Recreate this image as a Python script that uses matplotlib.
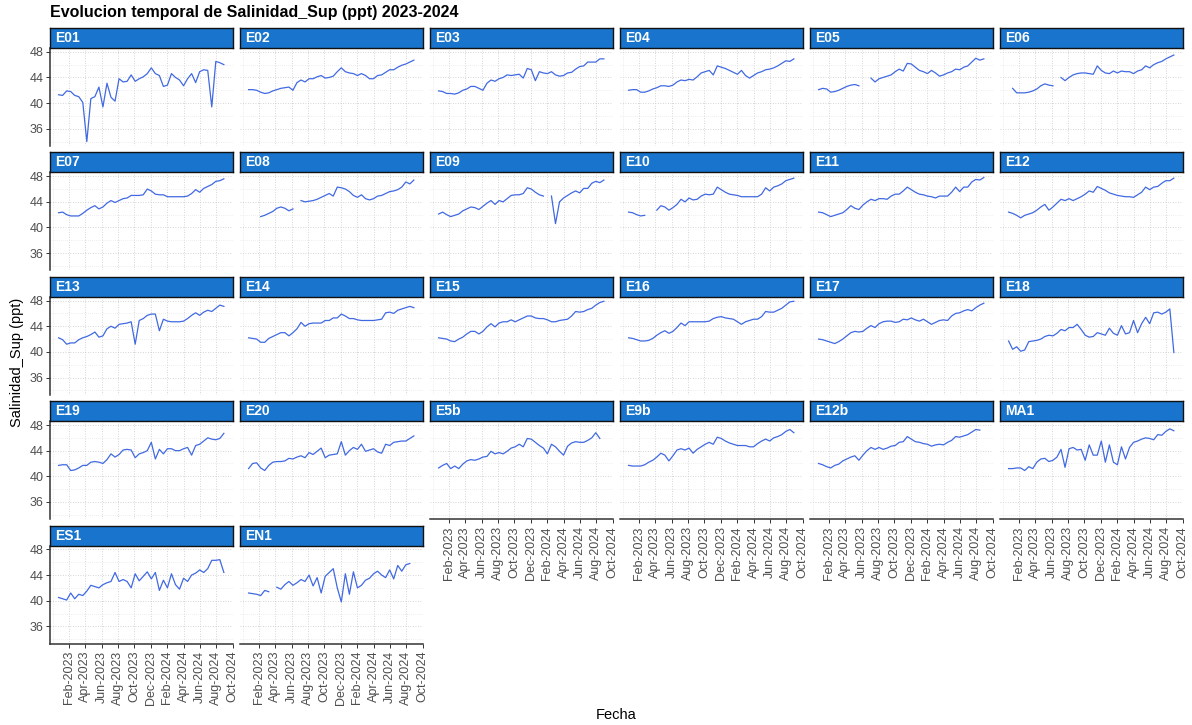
import numpy as np
import pandas as pd
import matplotlib
matplotlib.use("Agg")
import matplotlib.pyplot as plt
import matplotlib.dates as mdates

plt.rcParams['font.family'] = ['Liberation Sans', 'DejaVu Sans']

# Sampling dates (roughly every 15 days)
fechas = pd.date_range('2022-12-23', periods=42, freq='15D')
nan = np.nan

estaciones = ['E01', 'E02', 'E03', 'E04', 'E05', 'E06', 'E07', 'E08', 'E09', 'E10',
              'E11', 'E12', 'E13', 'E14', 'E15', 'E16', 'E17', 'E18', 'E19', 'E20',
              'E5b', 'E9b', 'E12b', 'MA1', 'ES1', 'EN1']

E01 = [41.3, 41.2, 41.9, 41.8, 41.2, 41.0, 40.1, 34.0, 40.7, 41.0, 42.5, 39.4, 43.1, 40.9,
       40.3, 43.8, 43.3, 43.4, 44.4, 43.4, 43.8, 44.1, 44.6, 45.5, 44.6, 44.3, 42.6, 42.8,
       44.6, 44.0, 43.6, 42.7, 43.8, 44.6, 43.2, 44.9, 45.2, 45.1, 39.4, 46.5, 46.3, 46.0]
E02 = [42.1, 42.1, 42.0, 41.7, 41.5, 41.6, 41.9, 42.1, 42.3, 42.4, 42.5, 42.0, 43.2, 43.6,
       43.3, 43.8, 43.8, 44.1, 44.3, 43.9, 44.0, 44.2, 44.9, 45.5, 44.9, 44.7, 44.6, 44.3,
       44.6, 44.3, 43.8, 43.8, 44.3, 44.4, 44.8, 45.2, 45.2, 45.6, 45.9, 46.1, 46.4, 46.7]
E03 = [41.9, 41.8, 41.5, 41.5, 41.4, 41.6, 42.0, 42.2, 42.6, 42.6, 42.3, 42.0, 43.1, 43.6,
       43.4, 43.8, 44.0, 44.4, 44.3, 44.4, 44.5, 43.9, 45.4, 45.2, 43.5, 44.9, 44.7, 44.6,
       44.9, 44.4, 44.2, 44.3, 44.7, 44.8, 45.3, 45.7, 45.8, 46.4, 46.4, 46.4, 46.9, 46.9]
E04 = [42.0, 42.1, 42.1, 41.7, 41.7, 41.9, 42.2, 42.4, 42.7, 42.7, 42.6, 42.8, 43.3, 43.6,
       43.5, 43.7, 43.6, 44.1, 44.7, 44.9, 45.1, 44.4, 45.8, 45.6, 45.4, 45.1, 44.8, 44.5,
       45.1, 44.3, 43.9, 44.3, 44.7, 44.9, 45.2, 45.3, 45.5, 45.8, 46.2, 46.6, 46.5, 46.9]
E05 = [42.1, 42.3, 42.2, 41.7, 41.8, 42.0, 42.3, 42.6, 42.8, 42.9, 42.7, nan, nan, 43.9,
       43.3, 43.8, 44.0, 44.2, 44.4, 44.9, 45.3, 45.0, 46.2, 46.1, 45.6, 45.1, 44.9, 44.6,
       45.1, 44.7, 44.2, 44.4, 44.7, 44.9, 45.3, 45.2, 45.6, 45.8, 46.4, 47.0, 46.7, 46.9]
E06 = [nan, 42.3, 41.6, 41.6, 41.6, 41.7, 41.9, 42.2, 42.7, 43.0, 42.8, 42.7, nan, 44.0,
       43.5, 44.0, 44.4, 44.6, 44.7, 44.7, 44.6, 44.5, 45.8, 45.1, 44.7, 44.6, 45.0, 44.7,
       45.0, 44.9, 44.9, 44.6, 45.0, 45.2, 45.8, 45.5, 46.0, 46.3, 46.5, 46.9, 47.2, 47.5]
E07 = [42.3, 42.4, 42.0, 41.8, 41.8, 41.8, 42.2, 42.7, 43.1, 43.4, 42.9, 43.2, 43.8, 44.2,
       43.9, 44.2, 44.5, 44.6, 45.0, 45.0, 45.0, 45.1, 46.0, 45.7, 45.2, 45.1, 45.1, 44.8,
       44.8, 44.8, 44.8, 44.8, 44.9, 45.3, 45.9, 45.5, 46.1, 46.4, 46.7, 47.2, 47.3, 47.6]
E08 = [nan, nan, nan, 41.7, 41.9, 42.2, 42.5, 43.0, 43.2, 43.0, 42.6, 42.9, nan, 44.2,
       44.0, 44.1, 44.2, 44.4, 44.7, 45.0, 45.3, 44.9, 46.3, 46.2, 46.0, 45.6, 45.0, 44.7,
       45.1, 44.5, 44.3, 44.5, 44.9, 45.0, 45.3, 45.6, 45.7, 45.9, 46.3, 47.1, 46.8, 47.4]
E09 = [42.1, 42.4, 42.0, 41.7, 41.9, 42.1, 42.6, 42.9, 43.2, 43.1, 42.8, 43.3, 43.8, 44.2,
       43.6, 44.2, 44.0, 44.5, 45.0, 45.1, 45.1, 45.3, 46.2, 46.0, 45.5, 45.1, 44.9, nan,
       44.9, 40.6, 44.0, 44.6, 45.0, 45.4, 45.7, 45.4, 46.1, 46.1, 46.9, 47.2, 47.0, 47.4]
E10 = [42.4, 42.3, 42.0, 41.8, 41.9, nan, nan, 42.7, 43.4, 43.2, 42.7, 43.1, 43.6, 44.4,
       44.0, 44.6, 44.3, 44.4, 44.9, 45.2, 45.1, 45.2, 46.3, 45.9, 45.5, 45.2, 45.1, 45.0,
       44.8, 44.8, 44.8, 44.8, 44.8, 45.2, 46.2, 45.7, 46.3, 46.5, 46.8, 47.3, 47.5, 47.7]
E11 = [42.4, 42.3, 42.0, 41.7, 41.9, 42.1, 42.3, 42.8, 43.4, 43.0, 42.8, 43.5, 44.0, 44.4,
       44.2, 44.5, 44.5, 44.4, 44.9, 45.2, 45.2, 45.7, 46.3, 45.9, 45.5, 45.2, 45.1, 44.9,
       44.8, 44.6, 44.9, 44.9, 44.9, 45.5, 46.3, 45.6, 46.3, 46.3, 47.1, 47.5, 47.4, 47.8]
E12 = [42.4, 42.2, 41.9, 41.5, 41.9, 42.1, 42.3, 42.7, 43.2, 43.6, 42.7, 43.2, 43.8, 44.4,
       44.2, 44.5, 44.2, 44.5, 44.8, 45.2, 45.7, 45.5, 46.4, 46.1, 45.8, 45.4, 45.2, 45.0,
       44.9, 44.8, 44.8, 44.7, 45.1, 45.5, 46.3, 45.9, 46.3, 46.4, 46.9, 47.3, 47.3, 47.7]
E13 = [42.2, 41.9, 41.2, 41.4, 41.4, 41.9, 42.2, 42.4, 42.7, 43.1, 42.3, 42.5, 43.6, 44.0,
       43.7, 44.3, 44.4, 44.5, 44.7, 41.2, 44.9, 45.2, 45.7, 45.9, 45.9, 43.3, 45.1, 44.8,
       44.7, 44.7, 44.7, 44.8, 45.2, 45.7, 46.1, 45.7, 46.2, 46.5, 46.3, 46.8, 47.3, 47.1]
E14 = [42.2, 42.1, 42.0, 41.5, 41.5, 42.1, 42.4, 42.7, 43.0, 43.0, 42.5, 43.0, 43.6, 44.6,
       44.0, 44.4, 44.5, 44.5, 44.5, 44.9, 44.9, 45.3, 45.3, 45.9, 45.6, 45.2, 45.2, 45.0,
       44.9, 44.9, 44.9, 44.9, 45.0, 45.1, 46.1, 46.2, 46.0, 46.5, 46.7, 46.9, 47.1, 46.9]
E15 = [42.2, 42.1, 42.0, 41.7, 41.6, 42.0, 42.3, 42.8, 43.2, 43.2, 42.8, 43.2, 43.9, 44.4,
       43.9, 44.5, 44.7, 44.7, 45.0, 44.7, 45.0, 45.3, 45.6, 45.6, 45.3, 45.2, 45.2, 45.0,
       44.7, 44.7, 44.9, 45.0, 45.1, 45.6, 46.3, 46.2, 46.3, 46.6, 46.8, 47.3, 47.7, 47.9]
E16 = [42.2, 42.1, 41.9, 41.7, 41.7, 41.8, 42.1, 42.6, 43.0, 43.3, 42.9, 43.2, 43.8, 44.5,
       44.1, 44.7, 44.7, 44.7, 44.7, 44.7, 44.8, 45.2, 45.4, 45.5, 45.3, 45.2, 45.1, 44.7,
       44.3, 44.7, 44.9, 45.1, 45.1, 45.5, 46.3, 46.2, 46.2, 46.5, 46.8, 47.3, 47.8, 47.9]
E17 = [42.0, 41.9, 41.7, 41.5, 41.3, 41.6, 42.0, 42.5, 43.0, 43.2, 43.1, 43.2, 43.7, 44.1,
       43.8, 44.4, 44.7, 44.8, 44.8, 44.6, 44.7, 45.1, 45.0, 45.3, 45.0, 44.8, 45.1, 44.7,
       44.3, 44.6, 44.9, 45.0, 44.9, 45.6, 46.0, 46.1, 46.4, 46.6, 46.4, 46.9, 47.3, 47.6]
E18 = [41.7, 40.4, 40.8, 40.1, 40.3, 41.6, 41.7, 41.8, 42.0, 42.4, 42.6, 42.5, 42.9, 43.5,
       43.3, 43.8, 43.8, 44.3, 43.5, 42.6, 42.3, 42.4, 43.0, 42.8, 42.6, 43.7, 42.9, 42.6,
       44.1, 42.8, 43.0, 44.9, 43.0, 44.4, 45.4, 44.4, 46.1, 46.2, 45.9, 46.2, 46.7, 39.9]
E19 = [41.7, 41.8, 41.8, 40.9, 41.0, 41.3, 41.7, 41.7, 42.2, 42.3, 42.2, 42.0, 42.6, 43.5,
       43.0, 43.4, 44.1, 44.2, 44.1, 42.9, 43.5, 43.7, 44.0, 45.3, 42.7, 44.2, 43.5, 44.3,
       44.3, 44.0, 44.0, 44.3, 44.5, 43.3, 44.8, 45.0, 45.5, 46.0, 45.8, 45.7, 45.9, 46.7]
E20 = [41.2, 42.0, 42.1, 41.3, 40.9, 41.7, 42.2, 42.3, 42.3, 42.4, 42.8, 42.7, 43.0, 43.2,
       42.9, 43.7, 43.4, 43.9, 44.4, 42.9, 43.3, 43.4, 43.5, 45.4, 43.3, 44.0, 44.5, 44.2,
       45.0, 43.9, 44.1, 44.3, 43.8, 43.6, 45.0, 44.8, 45.3, 45.4, 45.5, 45.5, 45.9, 46.3]
E5b = [41.3, 41.7, 42.0, 41.2, 41.6, 41.2, 41.9, 42.4, 42.6, 42.5, 42.7, 43.0, 43.1, 43.9,
       43.5, 43.7, 43.5, 43.9, 44.4, 44.6, 45.0, 44.6, 45.9, 45.8, 45.3, 44.8, 44.4, 43.5,
       45.0, 44.6, 43.9, 43.3, 44.7, 45.2, 45.4, 45.3, 45.3, 45.6, 46.0, 46.8, 45.9, nan]
E9b = [41.7, 41.6, 41.6, 41.6, 41.8, 42.2, 42.5, 43.0, 43.6, 43.3, 42.4, 43.2, 44.1, 44.3,
       44.1, 44.4, 43.6, 44.2, 44.6, 45.0, 45.3, 45.0, 46.1, 45.9, 45.5, 45.2, 45.0, 44.8,
       44.8, 44.8, 44.6, 44.6, 45.1, 45.5, 45.8, 45.5, 46.0, 46.2, 46.5, 47.0, 47.3, 46.8]
E12b = [42.0, 41.8, 41.5, 41.3, 41.7, 41.9, 42.4, 42.7, 43.0, 43.2, 42.5, 43.3, 44.0, 44.5,
        44.2, 44.5, 44.2, 44.4, 44.7, 44.8, 45.3, 45.4, 46.2, 45.8, 45.4, 45.3, 45.1, 45.0,
        44.7, 44.9, 45.0, 44.9, 45.3, 45.6, 46.2, 46.1, 46.3, 46.5, 46.9, 47.3, 47.2, nan]
MA1 = [41.2, 41.2, 41.3, 41.3, 40.9, 41.5, 41.2, 42.2, 42.7, 42.8, 42.3, 42.5, 43.0, 44.2,
       41.4, 44.3, 44.5, 44.1, 44.2, 42.5, 44.9, 43.3, 43.3, 45.5, 42.2, 44.9, 42.2, 41.8,
       44.6, 42.7, 44.5, 45.3, 45.5, 45.8, 46.0, 45.9, 45.7, 46.5, 46.4, 47.0, 47.4, 47.1]
ES1 = [40.5, 40.3, 40.1, 41.2, 40.3, 41.0, 40.8, 41.5, 42.4, 42.2, 42.0, 42.5, 42.8, 43.0,
       44.4, 43.0, 43.3, 43.0, 42.0, 44.2, 43.1, 43.8, 44.5, 43.4, 44.4, 41.6, 43.2, 42.0,
       44.2, 42.5, 41.8, 43.5, 43.0, 44.0, 44.3, 44.8, 44.4, 45.0, 46.3, 46.3, 46.4, 44.4]
EN1 = [41.2, 41.1, 41.0, 40.8, 41.6, 41.4, nan, 42.1, 41.8, 42.5, 43.0, 42.4, 42.8, 43.3,
       43.0, 44.0, 42.3, 43.6, 41.2, 43.8, 44.4, 45.0, 42.0, 39.8, 44.2, 41.0, 44.5, 42.0,
       42.4, 43.2, 43.5, 44.2, 44.6, 44.0, 43.6, 44.8, 43.4, 45.5, 44.6, 45.6, 45.8, nan]

series = {
    'E01': E01, 'E02': E02, 'E03': E03, 'E04': E04, 'E05': E05, 'E06': E06,
    'E07': E07, 'E08': E08, 'E09': E09, 'E10': E10, 'E11': E11, 'E12': E12,
    'E13': E13, 'E14': E14, 'E15': E15, 'E16': E16, 'E17': E17, 'E18': E18,
    'E19': E19, 'E20': E20, 'E5b': E5b, 'E9b': E9b, 'E12b': E12b, 'MA1': MA1,
    'ES1': ES1, 'EN1': EN1,
}

# Axis breaks
x_major = pd.date_range('2023-02-01', '2024-10-01', freq='2MS')
x_minor = pd.date_range('2022-12-01', '2024-09-01', freq='2MS')
y_major = [36, 40, 44, 48]
y_minor = [34, 38, 42, 46]

# ---- figure layout (pixel based) ----
W, H = 1192, 725
fig = plt.figure(figsize=(W / 100, H / 100), dpi=100)
fig.patch.set_facecolor('white')

ncol = 6
col_left0, col_w, col_step = 50, 183, 190
strip_top0, strip_h, panel_h, row_step = 28, 20, 98, 124.4

def fx(px):
    return px / W

def fy(py):
    return 1 - py / H

all_vals = np.concatenate([np.asarray(v, float) for v in series.values()])
vmin, vmax = np.nanmin(all_vals), np.nanmax(all_vals)
pad = 0.05 * (vmax - vmin)
ylim = (vmin - pad, vmax + pad)
xlim = (mdates.date2num(pd.Timestamp('2022-11-21')), mdates.date2num(pd.Timestamp('2024-10-02')))

line_color = '#4169E1'
strip_color = '#1874CD'
grid_major = '#C8C8C8'
grid_minor = '#DEDEDE'
axis_color = '#333333'
text_grey = '#4D4D4D'

n = len(estaciones)
xnum = mdates.date2num(fechas)

for k, name in enumerate(estaciones):
    r, c = divmod(k, ncol)
    left = col_left0 + c * col_step
    stop = strip_top0 + r * row_step
    ptop = stop + strip_h
    ax = fig.add_axes([fx(left), fy(ptop + panel_h), col_w / W, panel_h / H])
    sax = fig.add_axes([fx(left), fy(ptop), col_w / W, strip_h / H])

    # strip
    sax.set_facecolor(strip_color)
    sax.set_xticks([])
    sax.set_yticks([])
    for sp in sax.spines.values():
        sp.set_color('#111111')
        sp.set_linewidth(1.0)
    sax.text(5 / col_w, 0.5, name, transform=sax.transAxes, ha='left', va='center',
             color='white', fontsize=10, fontweight='bold')

    # panel
    ax.set_facecolor('white')
    ax.plot(xnum, np.asarray(series[name], float), color=line_color, lw=0.9,
            solid_joinstyle='round')
    ax.set_xlim(*xlim)
    ax.set_ylim(*ylim)

    ax.set_xticks(mdates.date2num(x_major))
    ax.set_xticks(mdates.date2num(x_minor), minor=True)
    ax.xaxis.set_major_formatter(mdates.DateFormatter('%b-%Y'))
    ax.set_yticks(y_major)
    ax.set_yticks(y_minor, minor=True)

    ax.grid(which='major', color=grid_major, lw=0.6, linestyle=(0, (1, 2)))
    ax.grid(which='minor', color=grid_minor, lw=0.5, linestyle=(0, (1, 2)))
    ax.set_axisbelow(True)

    for sp in ax.spines.values():
        sp.set_visible(False)

    is_left = (c == 0)
    is_bottom = (k + ncol >= n)

    ax.tick_params(which='minor', length=0)
    ax.tick_params(axis='y', which='major', length=3 if is_left else 0, width=0.7,
                   color=axis_color, labelsize=9, labelcolor=text_grey, pad=1.5,
                   labelleft=is_left)
    ax.tick_params(axis='x', which='major', length=3 if is_bottom else 0, width=0.7,
                   color=axis_color, labelsize=9, labelcolor=text_grey, pad=2,
                   labelbottom=is_bottom, labelrotation=90)
    if is_left:
        ax.spines['left'].set_visible(True)
        ax.spines['left'].set_color(axis_color)
        ax.spines['left'].set_linewidth(1.1)
    if is_bottom:
        ax.spines['bottom'].set_visible(True)
        ax.spines['bottom'].set_color(axis_color)
        ax.spines['bottom'].set_linewidth(1.1)

fig.text(fx(50), fy(12), 'Evolucion temporal de Salinidad_Sup (ppt) 2023-2024',
         ha='left', va='center', fontsize=11.5, fontweight='bold', color='black')
fig.text(fx(616.5), fy(715), 'Fecha', ha='center', va='center', fontsize=10.5, color='black')
fig.text(fx(17), fy(362), 'Salinidad_Sup (ppt)', ha='center', va='center', rotation=90,
         fontsize=10.5, color='black')

fig.savefig('out.png', dpi=100, facecolor='white')
